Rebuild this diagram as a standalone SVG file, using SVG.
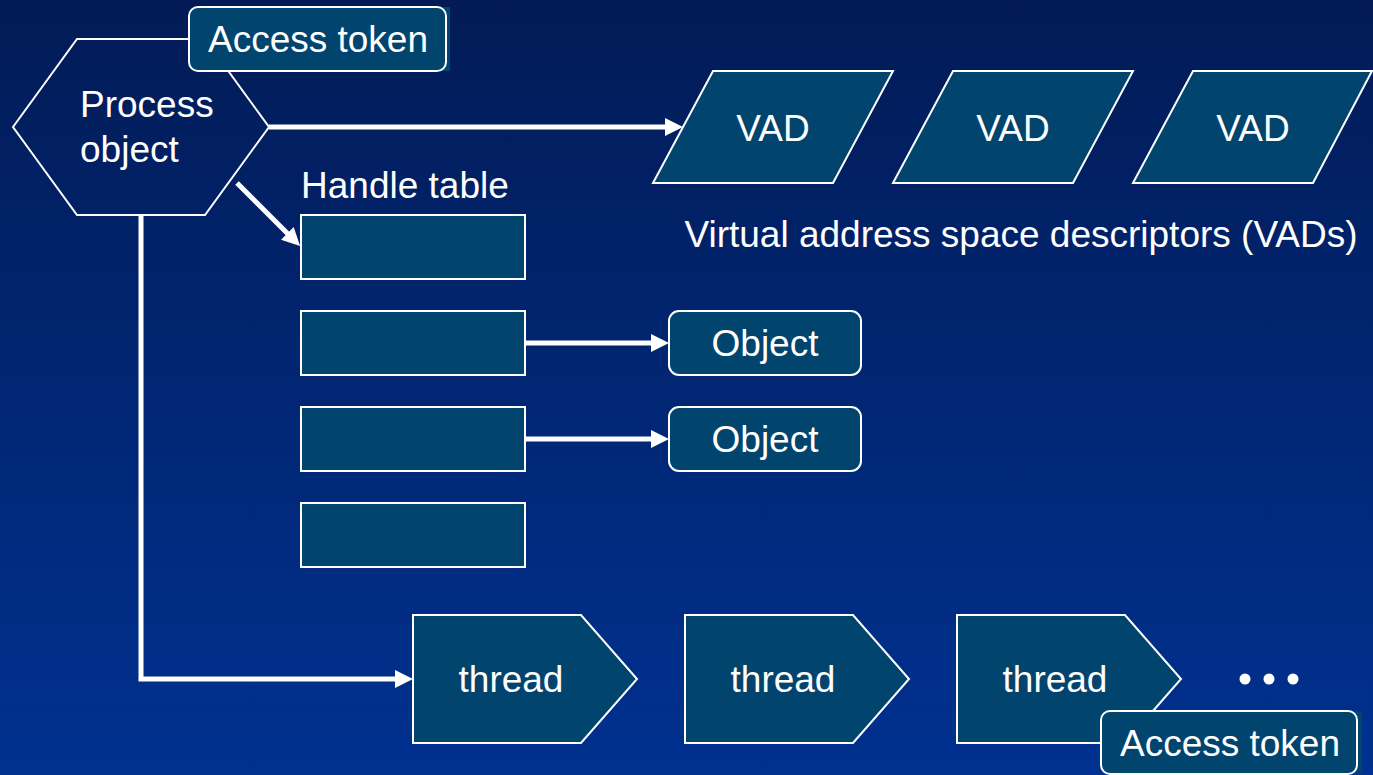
<svg xmlns="http://www.w3.org/2000/svg" width="1373" height="775" viewBox="0 0 1373 775">
<defs>
<linearGradient id="bg" x1="0" y1="0" x2="0" y2="1">
<stop offset="0" stop-color="#021b56"/>
<stop offset="1" stop-color="#003190"/>
</linearGradient>
<marker id="ah" markerUnits="userSpaceOnUse" markerWidth="18" markerHeight="20" refX="8" refY="10" orient="auto">
<path d="M0,1 L18,10 L0,19 z" fill="#fff"/>
</marker>
<style>
.n{fill:#01446e;stroke:#fff;stroke-width:2}
.t{font-family:"Liberation Sans",Arial,sans-serif;font-size:37px;fill:#fff}
.m{text-anchor:middle}
.c{fill:none;stroke:#fff;stroke-width:5}
</style>
</defs>
<rect width="1373" height="775" fill="url(#bg)"/>

<g id="connectors">
<line class="c" x1="269" y1="127" x2="673" y2="127" marker-end="url(#ah)"/>
<line class="c" x1="237" y1="183" x2="293" y2="239" marker-end="url(#ah)"/>
<line class="c" x1="525" y1="343" x2="659" y2="343" marker-end="url(#ah)"/>
<line class="c" x1="525" y1="439" x2="659" y2="439" marker-end="url(#ah)"/>
<polyline class="c" points="141,215 141,679 403,679" marker-end="url(#ah)"/>
</g>

<g id="process">
<polygon points="13,127 77,39 205,39 269,127 205,215 77,215" fill="none" stroke="#fff" stroke-width="2"/>
<text class="t" x="80" y="117">Process</text>
<text class="t" x="80" y="162">object</text>
</g>

<g id="token-process">
<rect x="420" y="7" width="30" height="64" fill="#01446e"/>
<rect class="n" x="189" y="7" width="257" height="64" rx="9"/>
<text class="t m" x="318" y="52">Access token</text>
</g>

<g id="vad1">
<polygon class="n" points="713,71 893,71 833,183 653,183"/>
<text class="t m" x="773" y="141">VAD</text>
</g>
<g id="vad2">
<polygon class="n" points="953,71 1133,71 1073,183 893,183"/>
<text class="t m" x="1013" y="141">VAD</text>
</g>
<g id="vad3">
<polygon class="n" points="1193,71 1372,71 1313,183 1133,183"/>
<text class="t m" x="1253" y="141">VAD</text>
</g>
<g id="vad-label">
<text class="t m" x="1021" y="247">Virtual address space descriptors (VADs)</text>
</g>

<g id="handle-table">
<text class="t" x="301" y="198">Handle table</text>
<rect class="n" x="301" y="215" width="224" height="64"/>
<rect class="n" x="301" y="311" width="224" height="64"/>
<rect class="n" x="301" y="407" width="224" height="64"/>
<rect class="n" x="301" y="503" width="224" height="64"/>
</g>

<g id="object1">
<rect class="n" x="669" y="311" width="192" height="64" rx="10"/>
<text class="t m" x="765" y="356">Object</text>
</g>
<g id="object2">
<rect class="n" x="669" y="407" width="192" height="64" rx="10"/>
<text class="t m" x="765" y="452">Object</text>
</g>

<g id="thread1">
<polygon class="n" points="413,615 581,615 637,679 581,743 413,743"/>
<text class="t m" x="511" y="692">thread</text>
</g>
<g id="thread2">
<polygon class="n" points="685,615 853,615 909,679 853,743 685,743"/>
<text class="t m" x="783" y="692">thread</text>
</g>
<g id="thread3">
<polygon class="n" points="957,615 1125,615 1181,679 1125,743 957,743"/>
<text class="t m" x="1055" y="692">thread</text>
</g>

<g id="ellipsis" fill="#fff">
<circle cx="1245" cy="679" r="5.5"/>
<circle cx="1269" cy="679" r="5.5"/>
<circle cx="1293" cy="679" r="5.5"/>
</g>

<g id="token-thread">
<rect x="1330" y="711" width="32" height="63" fill="#01446e"/>
<rect class="n" x="1101" y="711" width="256" height="63" rx="9"/>
<text class="t m" x="1230" y="756">Access token</text>
</g>
</svg>
